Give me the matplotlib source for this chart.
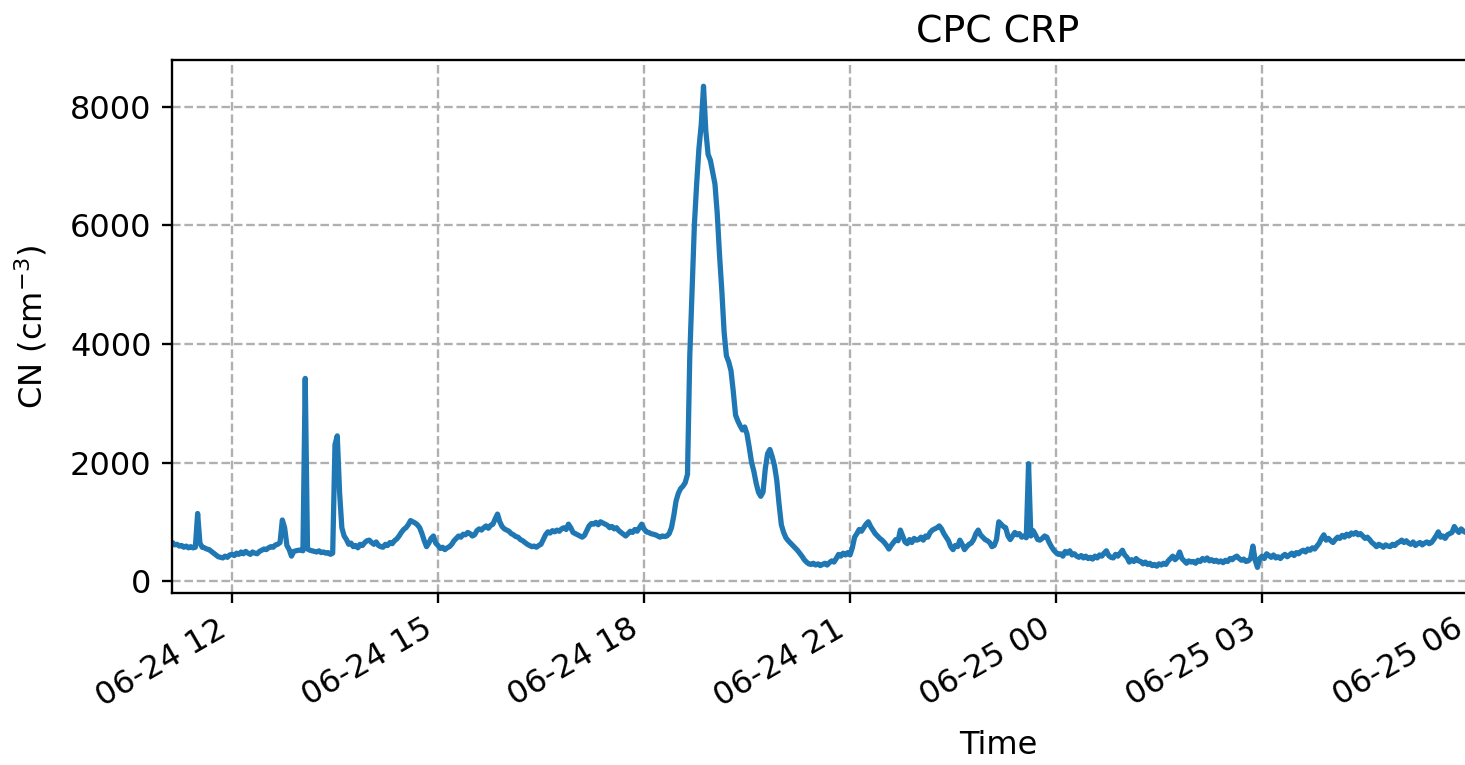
import numpy as np
import pandas as pd
import matplotlib
matplotlib.use("Agg")
import matplotlib.pyplot as plt
import matplotlib.dates as mdates
from matplotlib.ticker import MultipleLocator

# CPC concentration, 2-minute samples, one row per hour starting 2023-06-24 11:00
start_time = "2023-06-24 11:00"
step = "2min"
cn_h11 = [680,690,670,660,650,610,620,590,600,570,590,560,580,560,570,1140,640,570,560,540,530,500,470,440,410,400,390,420,400,440]
cn_h12 = [450,430,470,450,490,460,500,470,450,490,470,460,500,520,540,530,560,580,570,610,620,650,1030,900,600,530,420,500,510,520]
cn_h13 = [520,510,3420,540,520,510,500,490,510,480,490,470,480,450,470,2300,2450,1500,900,760,700,620,640,580,600,560,620,600,650,680]
cn_h14 = [690,650,620,660,600,580,570,620,600,650,630,680,710,760,820,870,900,950,1020,1000,980,950,900,800,680,580,640,720,760,640]
cn_h15 = [600,550,570,530,560,580,620,680,720,760,740,790,780,820,800,760,780,850,880,860,900,930,890,940,960,1050,1130,1000,920,880]
cn_h16 = [860,840,800,780,750,740,700,680,650,620,600,580,590,570,600,620,700,780,830,810,850,830,860,840,880,900,870,960,900,820]
cn_h17 = [800,780,760,740,770,850,930,970,960,990,950,1000,980,960,940,900,920,880,900,850,820,790,760,800,840,820,870,840,900,960]
cn_h18 = [880,830,820,800,790,780,760,740,760,750,760,800,900,1100,1350,1480,1560,1600,1660,1800,3800,4900,6000,6700,7300,7700,8350,7600,7200,7100]
cn_h19 = [6900,6700,6200,5500,4900,4200,3800,3700,3550,3200,2800,2700,2620,2550,2600,2480,2250,2000,1850,1650,1500,1430,1500,1900,2150,2220,2100,1950,1700,1300]
cn_h20 = [950,820,730,680,640,600,560,520,470,420,360,320,290,280,300,270,290,260,280,300,270,310,340,320,380,450,420,470,440,480]
cn_h21 = [440,560,740,800,870,840,900,960,1000,920,860,800,760,720,690,650,600,540,600,650,700,680,860,760,660,630,700,650,720,690]
cn_h22 = [700,740,690,760,740,820,860,880,900,930,880,800,740,680,580,530,600,580,690,620,530,580,620,640,700,800,860,780,740,700]
cn_h23 = [680,650,580,600,700,1000,960,920,900,760,700,760,820,780,800,740,760,730,1980,760,850,780,700,690,720,760,740,650,580,520]
cn_h00 = [480,450,460,420,500,470,510,440,460,420,400,430,390,420,380,400,370,420,390,440,420,470,510,430,400,390,450,420,470,520]
cn_h01 = [440,400,320,360,330,380,340,330,290,320,280,300,260,280,250,290,270,300,280,340,380,420,360,400,490,380,340,300,340,320]
cn_h02 = [330,300,350,330,380,350,390,340,360,330,350,320,340,310,350,330,380,360,400,420,380,350,370,330,340,380,590,350,230,380]
cn_h03 = [420,380,460,430,400,440,390,410,380,420,450,410,440,470,430,480,460,500,520,490,540,520,560,540,590,640,720,780,690,720]
cn_h04 = [680,650,700,740,720,770,740,790,760,810,790,820,780,800,760,720,740,700,650,620,580,620,600,570,610,590,580,620,600,640]
cn_h05 = [660,690,650,680,640,620,660,600,630,650,610,640,660,630,650,700,760,830,740,760,720,780,800,820,920,860,820,880,840,820]
cn_h06 = [850,800,830,870,840,860]

cn = (cn_h11 + cn_h12 + cn_h13 + cn_h14 + cn_h15 + cn_h16 + cn_h17 + cn_h18 +
      cn_h19 + cn_h20 + cn_h21 + cn_h22 + cn_h23 + cn_h00 + cn_h01 + cn_h02 +
      cn_h03 + cn_h04 + cn_h05 + cn_h06)
times = pd.date_range(start_time, periods=len(cn), freq=step)

title = "CPC CRP"
xlabel = "Time"
ylabel = "CN (cm$^{-3}$)"
x_limits = ("2023-06-24 11:07:36", "2023-06-25 11:11:00")
y_limits = (-202, 8793)

DPI = 210
fig = plt.figure(figsize=(1465 / DPI, 765 / DPI), dpi=DPI)
ax = fig.add_axes([172 / 1465, 1 - 593 / 765, (1824 - 172) / 1465, (593 - 60) / 765])

ax.plot(times, cn, color="#1f77b4", linewidth=1.8)
ax.set_xlim(pd.Timestamp(x_limits[0]), pd.Timestamp(x_limits[1]))
ax.set_ylim(*y_limits)
ax.yaxis.set_major_locator(MultipleLocator(2000))

ax.xaxis.set_major_locator(mdates.HourLocator(byhour=range(0, 24, 3)))
ax.xaxis.set_major_formatter(mdates.DateFormatter("%m-%d %H"))
ax.tick_params(labelsize=11)
plt.setp(ax.get_xticklabels(), rotation=30, ha="right")

ax.grid(True, linestyle="--", color="#b0b0b0", linewidth=0.8)
ax.set_title(title, fontsize=13)
ax.set_xlabel(xlabel, fontsize=11, labelpad=6)
ax.set_ylabel(ylabel, fontsize=11, labelpad=7)

fig.savefig("out.png", dpi=DPI)
